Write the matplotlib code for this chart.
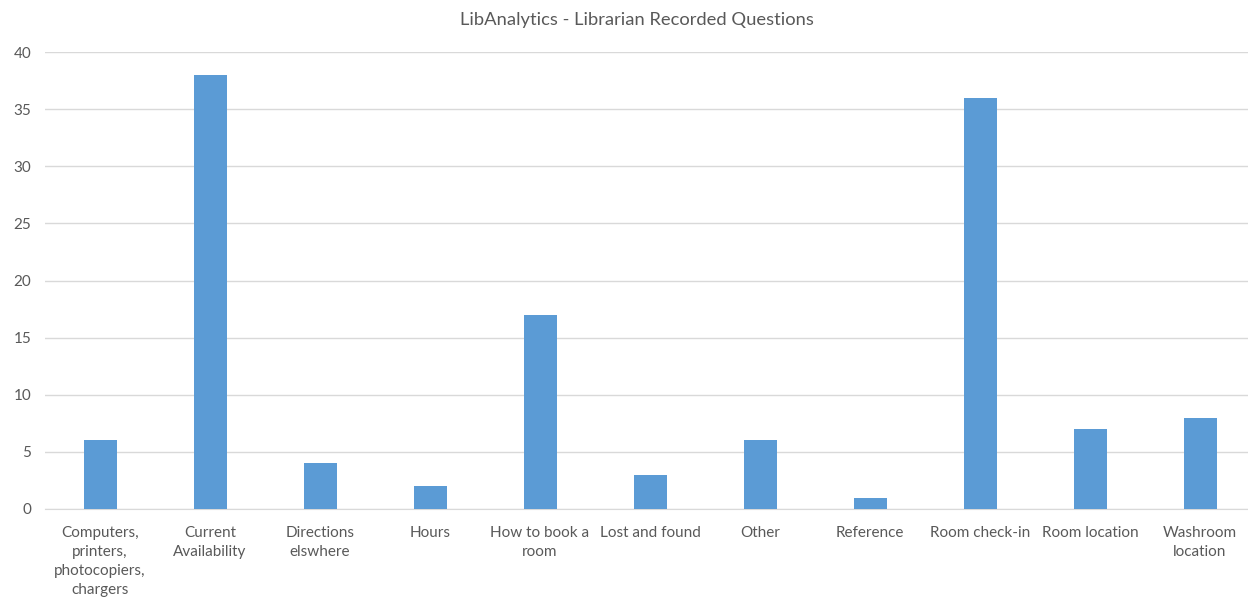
import matplotlib.pyplot as plt

categories = [
    "Computers,\nprinters,\nphotocopiers,\nchargers",
    "Current\nAvailability",
    "Directions\nelswhere",
    "Hours",
    "How to book a\nroom",
    "Lost and found",
    "Other",
    "Reference",
    "Room check-in",
    "Room location",
    "Washroom\nlocation",
]
counts = [6, 38, 4, 2, 17, 3, 6, 1, 36, 7, 8]
y_ticks = [0, 5, 10, 15, 20, 25, 30, 35, 40]

text_color = "#595959"
plt.rcParams["font.family"] = ["Lato", "DejaVu Sans"]

fig = plt.figure(figsize=(12.48, 6), dpi=100)
ax = fig.add_axes([45 / 1248, 91 / 600, 1210 / 1248, 457 / 600])

x = range(len(categories))
ax.bar(x, counts, width=0.3, color="#5B9BD5", zorder=3)

ax.set_xlim(-0.5, len(categories) - 0.5)
ax.set_ylim(0, 40)
ax.set_yticks(y_ticks)
ax.set_xticks(list(x))
ax.set_xticklabels(categories, fontsize=11, color=text_color, linespacing=1.47)
ax.tick_params(axis="y", labelsize=11, labelcolor=text_color, length=0, pad=10)
ax.tick_params(axis="x", length=0, pad=12)
for lbl in ax.get_xticklabels():
    lbl.set_verticalalignment("top")

ax.grid(axis="y", color="#D9D9D9", linewidth=1, zorder=0)
for side in ["top", "right", "left"]:
    ax.spines[side].set_visible(False)
ax.spines["bottom"].set_color("#D9D9D9")

fig.text(0.51, 0.967, "LibAnalytics - Librarian Recorded Questions",
         ha="center", va="center", fontsize=13.2, color=text_color)

fig.savefig("out.png", dpi=100)
plt.close(fig)
